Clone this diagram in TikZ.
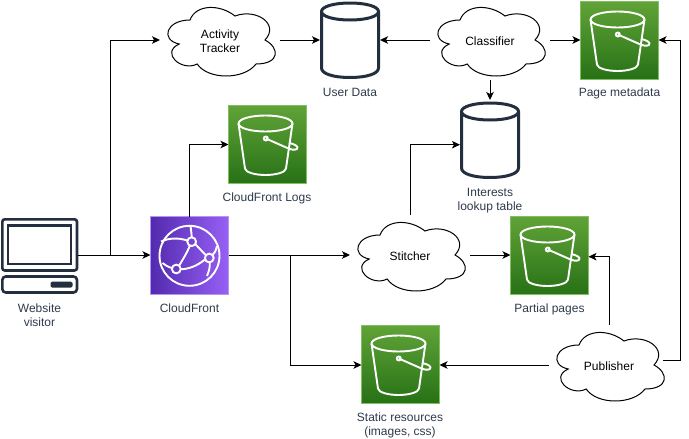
\documentclass[tikz,border=0pt]{standalone}
\usepackage{fontspec}
\setmainfont{Liberation Sans}
\usetikzlibrary{arrows.meta}
\definecolor{ink}{HTML}{232F3E}
\definecolor{lbl}{HTML}{2E3A4B}
\tikzset{
  conn/.style={draw=black,line width=1pt,-{Stealth[length=8pt,width=7.5pt,inset=2pt]}},
  lab/.style={text=lbl,font=\fontsize{12}{14}\selectfont,align=center,inner sep=0pt},
  baselab/.style={lab,anchor=base},
  cloudtxt/.style={text=black,font=\fontsize{12}{14}\selectfont,align=center,inner sep=0pt,yshift=-1pt},
  frame/.style={minimum width=#1,minimum height=80pt,inner sep=0pt,outer sep=0pt},
  greenbox/.style={minimum size=78pt,inner sep=0pt,outer sep=0pt,
    top color={rgb,255:red,96;green,163;blue,55},bottom color={rgb,255:red,39;green,113;blue,22},draw={rgb,255:red,130;green,190;blue,100},line width=.5pt},
  purplebox/.style={minimum size=78pt,inner sep=0pt,outer sep=0pt,left color={rgb,255:red,82;green,42;blue,175},right color={rgb,255:red,152;green,96;blue,245},draw={rgb,255:red,180;green,150;blue,240},line width=.5pt},
  iconline/.style={draw=white,line width=1.9pt,line join=round},
  inkline/.style={draw=ink,line width=3pt,line join=round,line cap=round}
}
\newcommand{\bucketat}[3]{%
  \node[greenbox,anchor=north west] (#1) at (#2,#3) {};
  \begin{scope}[shift={(#2,#3)}]
    \draw[iconline] (10,18) .. controls (10,22.5) and (22,26) .. (37,26) .. controls (52,26) and (64,22.5) .. (64,18)
       .. controls (64,13.5) and (52,10) .. (37,10) .. controls (22,10) and (10,13.5) .. (10,18) -- cycle;
    \draw[iconline] (10,18) -- (16.5,63) .. controls (17,67) and (27,69.5) .. (37,69.5) .. controls (47,69.5) and (57,67) .. (57.5,63) -- (64,18);
    \draw[iconline] (37.3,33) -- (60,43) .. controls (65,45) and (69,44.5) .. (69,42) .. controls (69,40) and (64,38) .. (60.5,37.6);
    \draw[iconline] (37.3,33) circle (2);
  \end{scope}}
\newcommand{\cloudat}[4]{%
  \node[frame=120pt,anchor=north west] (#1) at (#2,#3) {};
  \begin{scope}[shift={(#2,#3)},x=120pt,y=-80pt]
    \draw[black,line width=1pt] (.25,.25) .. controls (.05,.25) and (0,.5) .. (.16,.55)
      .. controls (0,.66) and (.18,.9) .. (.31,.8)
      .. controls (.4,1) and (.7,1) .. (.8,.8)
      .. controls (1,.8) and (1,.6) .. (.875,.5)
      .. controls (1,.3) and (.8,.1) .. (.625,.2)
      .. controls (.5,.05) and (.3,.05) .. (.25,.25) -- cycle;
  \end{scope}
  \node[cloudtxt] at (#1.center) {#4};}
\newcommand{\cylat}[3]{%
  \node[frame=60pt,anchor=north west] (#1) at (#2,#3) {};
  \begin{scope}[shift={(#2,#3)}]
    \draw[inkline] (1.5,11.5) .. controls (1.5,6.5) and (14,3) .. (30,3) .. controls (46,3) and (58.5,6.5) .. (58.5,11.5)
       .. controls (58.5,16.5) and (46,20) .. (30,20) .. controls (14,20) and (1.5,16.5) .. (1.5,11.5) -- (1.5,68)
       .. controls (1.5,74) and (14,77.5) .. (30,77.5) .. controls (46,77.5) and (58.5,74) .. (58.5,68) -- (58.5,11.5);
  \end{scope}}
\begin{document}
\begin{tikzpicture}[x=1pt,y=-1pt]
\useasboundingbox (0,0) rectangle (689,439);
\node[minimum width=78pt,minimum height=76pt,inner sep=0pt,outer sep=0pt,anchor=north west] (visitor) at (1,218) {};
\draw[ink,line width=2.6pt,rounded corners=2.5pt] (2.3,219.3) rectangle (77,270.5);
\draw[ink,line width=2.6pt] (8,225.7) rectangle (71,264);
\draw[ink,line width=2.6pt,rounded corners=3.5pt] (2.3,276.5) rectangle (77,292.5);
\fill[ink,rounded corners=1.5pt] (50.5,281.5) rectangle (72.5,287.5);
\node[lab] (visitorlab) at (39.5,315.5) {Website\\visitor};
\node[purplebox,anchor=north west] (cf) at (150.5,216.5) {};
\begin{scope}[iconline]
  \draw (189.5,255.8) circle (30);
  \draw (191.7,241.7) circle (4.4);
  \draw (209.3,258) circle (4.4);
  \draw (176.3,269) circle (4.4);
  \draw (161,241.5) .. controls (169,238) and (178,237.5) .. (187.3,240.5);
  \draw (191.7,237.3) .. controls (191.5,233) and (191,229.5) .. (190.5,226);
  \draw (195.5,244.3) -- (205.8,255.2);
  \draw (189.8,245.8) .. controls (187,253) and (183,259) .. (179.2,265.5);
  \draw (180.7,269.3) .. controls (189,269) and (197,266) .. (204.9,259.5);
  \draw (171.9,268) .. controls (168,267) and (165,265) .. (162.5,263);
  \draw (212.5,255.2) .. controls (215,253) and (216,250) .. (217,246);
  \draw (209.8,262.4) .. controls (210,268) and (209,271) .. (207,276);
\end{scope}
\node[baselab] (cflab) at (189.5,312) {CloudFront};
\cloudat{tracker}{160}{0}{Activity\\Tracker}
\cloudat{classifier}{430}{0}{Classifier}
\cloudat{stitcher}{350}{215}{Stitcher}
\cloudat{publisher}{549}{325}{Publisher}
\cylat{userdata}{320}{0}
\node[baselab] (userlab) at (350,96.7) {User Data};
\cylat{interests}{460}{100}
\node[lab] (intlab) at (490,200.5) {Interests\\lookup table};
\bucketat{logs}{228.5}{105.5}
\node[baselab] (logslab) at (267,201) {CloudFront Logs};
\bucketat{meta}{580.5}{1.5}
\node[baselab] (metalab) at (619.5,96.7) {Page metadata};
\bucketat{partial}{510.5}{216.5}
\node[baselab] (partlab) at (549.5,312) {Partial pages};
\bucketat{static}{361.5}{325.5}
\node[lab] (statlab) at (400,425.5) {Static resources\\(images, css)};
\coordinate (j1) at (110,255);
\coordinate (j2) at (290,255);
\coordinate (pubout) at (663,360.7);
\coordinate (riser) at (680.7,40);
\draw[conn] (78,255) -- (cf.west |- 0,255);
\draw[conn] (j1) |- (tracker.west);
\draw[conn] (cf.north) |- (logs.west);
\draw[conn] (cf.east |- j2) -- (stitcher.west);
\draw[conn] (j2) |- (static.west |- 0,365);
\draw[conn] (tracker.east) -- (userdata.west);
\draw[conn] (classifier.west) -- (userdata.east);
\draw[conn] (classifier.east) -- (meta.west |- 0,40);
\draw[conn] (classifier.south) -- (interests.north);
\draw[conn] (stitcher.north) |- (interests.west |- 0,144.7);
\draw[conn] (stitcher.east) -- (partial.west |- 0,255);
\draw[conn] (publisher.north) |- (partial.east |- 0,256.7);
\draw[conn] (publisher.west) -- (static.east |- 0,365);
\draw[conn] (pubout) -| (riser) -- (meta.east |- 0,40);
\end{tikzpicture}
\end{document}
